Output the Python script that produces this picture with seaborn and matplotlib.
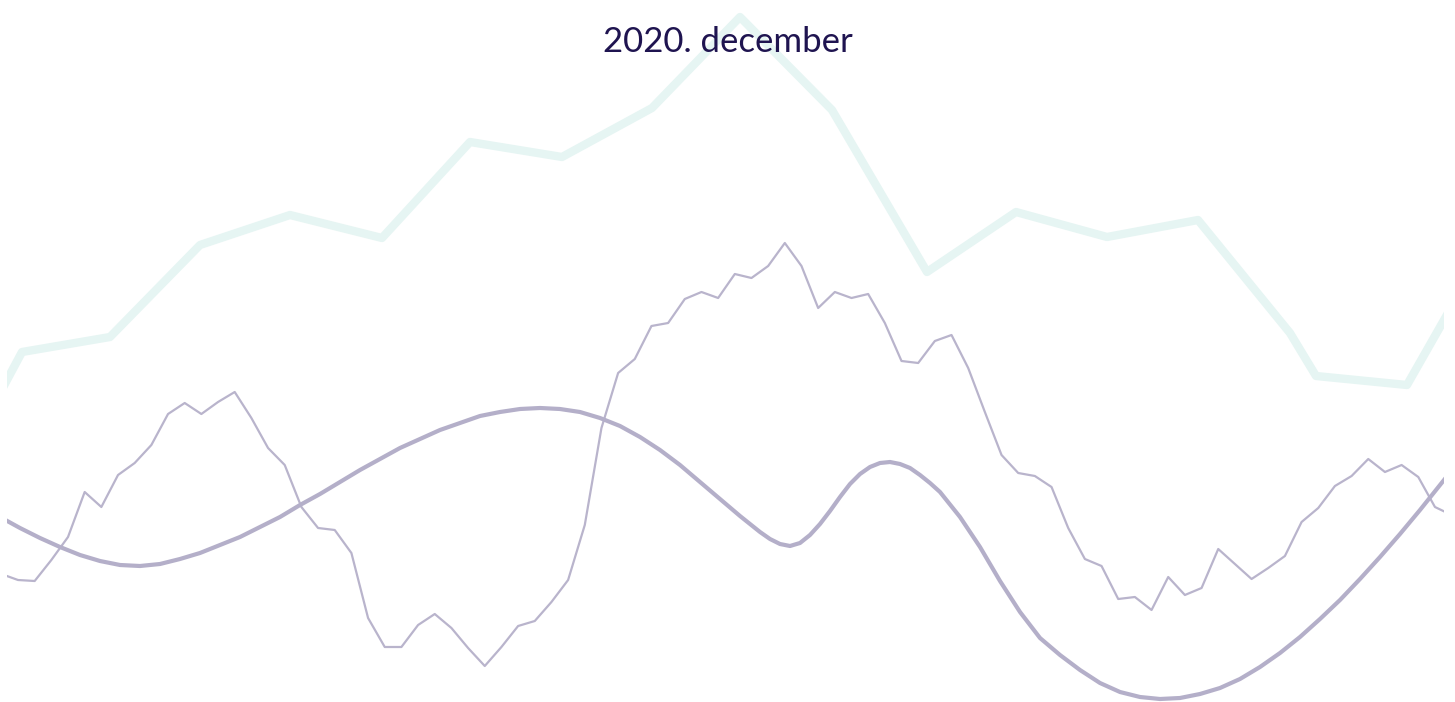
import numpy as np
import pandas as pd
import matplotlib
matplotlib.use('Agg')
import matplotlib.pyplot as plt
import seaborn as sns

# teal background line (position, height)
teal_x = [-68, 22, 110, 200, 290, 382, 470, 562, 652, 740, 832, 927, 1016, 1107, 1198, 1290, 1316, 1407, 1497]
teal_y = [182, 350, 365, 457, 487, 464, 560, 545, 594, 685, 592, 430, 490, 465, 482, 369, 326, 317, 475]

# jagged daily line
jag_y = [128, 122, 121, 142, 165, 210, 195, 227, 239, 257, 288, 299, 288, 300, 310, 284,
         254, 237, 195, 174, 172, 149, 84, 55, 55, 77, 88, 74, 54, 36, 55, 76,
         81, 100, 122, 177, 274, 329, 343, 376, 379, 403, 410, 404, 428, 424, 436, 459,
         436, 394, 410, 404, 408, 379, 341, 339, 361, 367, 334, 290, 247, 229, 226, 215,
         174, 143, 136, 103, 105, 92, 125, 107, 114, 153, 138, 123, 134, 146, 180, 194,
         216, 226, 243, 230, 237, 225, 195, 187]
jag_x = 18 + 16.67 * np.arange(-1, len(jag_y) - 1)

# smooth trend line
smooth_x = [0, 20, 40, 60, 80, 100, 120, 140, 160, 180, 200, 220, 240, 260, 280, 300,
            320, 340, 360, 380, 400, 420, 440, 460, 480, 500, 520, 540, 560, 580, 600,
            620, 640, 660, 680, 700, 720, 740, 760, 770, 780, 790, 800, 810, 820, 830,
            840, 850, 860, 870, 880, 890, 900, 910, 920, 930, 940, 960, 980, 1000, 1020,
            1040, 1060, 1080, 1100, 1120, 1140, 1160, 1180, 1200, 1220, 1240, 1260, 1280,
            1300, 1320, 1340, 1360, 1380, 1400, 1420, 1440, 1460]
smooth_y = [185, 174, 164, 155, 147, 141, 137, 136, 138, 143, 149, 157, 165, 175, 185, 197,
            208, 220, 232, 243, 254, 263, 272, 279, 286, 290, 293, 294, 293, 290, 284,
            276, 265, 252, 237, 220, 203, 186, 170, 163, 158, 156, 159, 167, 178, 191,
            205, 218, 228, 235, 239, 240, 238, 234, 227, 219, 210, 185, 155, 121, 90,
            64, 47, 32, 19, 10, 5, 3, 4, 8, 14, 23, 35, 49,
            65, 83, 102, 123, 145, 168, 192, 217, 242]

sns.set_theme(style='white')

fig = plt.figure(figsize=(14.55, 7.02), dpi=100)
ax = fig.add_axes([6.5 / 1455, 0, 1437 / 1455, 1])

sns.lineplot(x=teal_x, y=teal_y, ax=ax, sort=False, color='#e6f5f3', linewidth=6, estimator=None)
sns.lineplot(x=jag_x, y=jag_y, ax=ax, sort=False, color='#b9b4cc', linewidth=1.6, estimator=None)
sns.lineplot(x=smooth_x, y=smooth_y, ax=ax, sort=False, color='#b4afc9', linewidth=3, estimator=None)

ax.set_xlim(6.5, 1443.5)
ax.set_ylim(0, 702)
ax.axis('off')

fig.text(0.5, 1 - 42 / 702, '2020. december', ha='center', va='center',
         fontsize=25, color='#1f1450', family=['Lato', 'DejaVu Sans'])

fig.savefig('out.png', dpi=100)
